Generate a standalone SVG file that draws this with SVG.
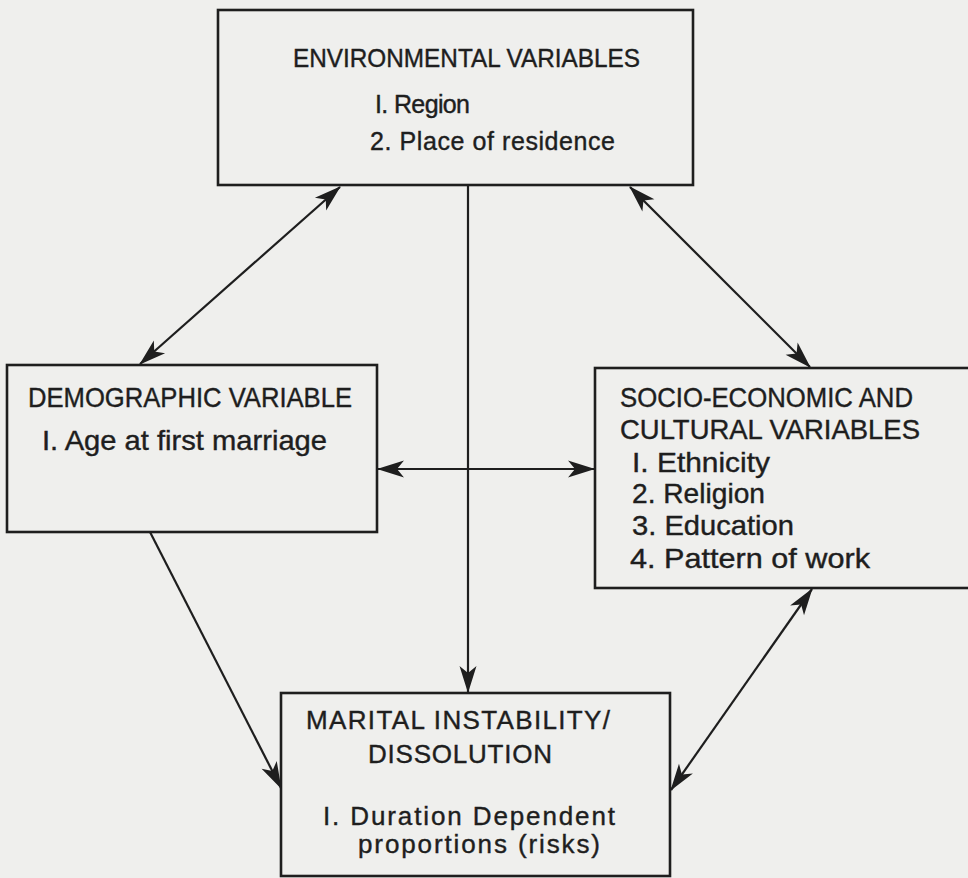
<svg xmlns="http://www.w3.org/2000/svg" width="968" height="878" viewBox="0 0 968 878">
<style>
.bg{fill:#efefed}
.box{fill:none;stroke:#1e1e1e;stroke-width:2.6}
.t{font-family:"Liberation Sans",Arial,sans-serif;fill:#1e1e1e;stroke:#1e1e1e;stroke-width:0.4}
.conn line{stroke:#1e1e1e;stroke-width:2.2}
</style>
<defs>
<marker id="ah" viewBox="-30 -10 32 20" refX="0" refY="0" markerWidth="32" markerHeight="20" markerUnits="userSpaceOnUse" orient="auto-start-reverse">
<path d="M1,0 L-26,-8.5 L-19,0 L-26,8.5 Z" fill="#1e1e1e"/>
</marker>
</defs>
<rect class="bg" x="0" y="0" width="968" height="878"/>
<g id="environmental">
<rect class="box" x="218" y="10" width="475" height="175"/>
<text class="t" x="293" y="67" font-size="25" textLength="347" lengthAdjust="spacingAndGlyphs">ENVIRONMENTAL VARIABLES</text>
<text class="t" x="375" y="113" font-size="25" textLength="95">I.  Region</text>
<text class="t" x="370" y="150" font-size="25" textLength="245">2.  Place of residence</text>
</g>
<g id="demographic">
<rect class="box" x="7" y="365" width="370" height="167"/>
<text class="t" x="28" y="407" font-size="28" textLength="324" lengthAdjust="spacingAndGlyphs">DEMOGRAPHIC VARIABLE</text>
<text class="t" x="42" y="450" font-size="28" textLength="285" lengthAdjust="spacingAndGlyphs">I.  Age at first marriage</text>
</g>
<g id="socioeconomic">
<rect class="box" x="595" y="368" width="390" height="220"/>
<text class="t" x="620" y="407" font-size="28" textLength="293" lengthAdjust="spacingAndGlyphs">SOCIO-ECONOMIC AND</text>
<text class="t" x="620" y="439" font-size="28" textLength="300" lengthAdjust="spacingAndGlyphs">CULTURAL VARIABLES</text>
<text class="t" x="632" y="472" font-size="28" textLength="138" lengthAdjust="spacingAndGlyphs">I.  Ethnicity</text>
<text class="t" x="632" y="503" font-size="28" textLength="133" lengthAdjust="spacingAndGlyphs">2. Religion</text>
<text class="t" x="632" y="535" font-size="28" textLength="162" lengthAdjust="spacingAndGlyphs">3. Education</text>
<text class="t" x="630" y="568" font-size="28" textLength="240" lengthAdjust="spacingAndGlyphs">4. Pattern of work</text>
</g>
<g id="marital">
<rect class="box" x="281" y="693" width="389" height="183"/>
<text class="t" x="306" y="729" font-size="26" textLength="304">MARITAL INSTABILITY/</text>
<text class="t" x="368" y="763" font-size="26" textLength="184">DISSOLUTION</text>
<text class="t" x="323" y="825" font-size="26" textLength="292">I.  Duration Dependent</text>
<text class="t" x="358" y="853" font-size="26" textLength="242">proportions (risks)</text>
</g>
<g id="connectors" class="conn">
<line x1="340" y1="187" x2="140" y2="364" marker-start="url(#ah)" marker-end="url(#ah)"/>
<line x1="630" y1="187" x2="810" y2="367" marker-start="url(#ah)" marker-end="url(#ah)"/>
<line x1="468" y1="185" x2="468" y2="692" marker-end="url(#ah)"/>
<line x1="378" y1="469" x2="594" y2="469" marker-start="url(#ah)" marker-end="url(#ah)"/>
<line x1="150" y1="532" x2="281" y2="788" marker-end="url(#ah)"/>
<line x1="812" y1="589" x2="671" y2="790" marker-start="url(#ah)" marker-end="url(#ah)"/>
</g>
</svg>
